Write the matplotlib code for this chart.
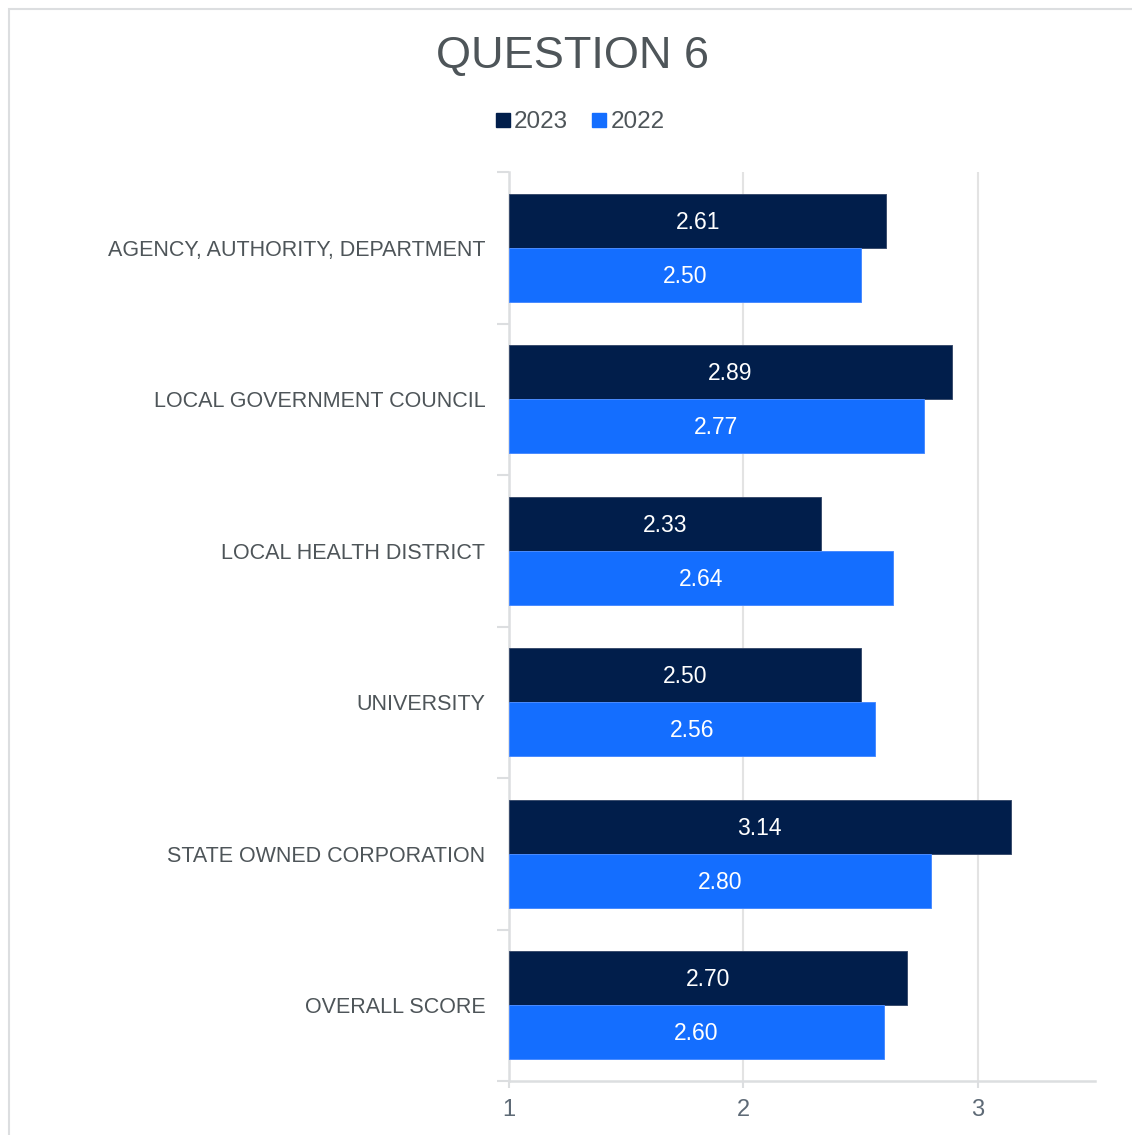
import matplotlib.pyplot as plt
import numpy as np
from matplotlib.patches import Rectangle
from matplotlib.lines import Line2D

plt.rcParams['font.family'] = ['Liberation Sans', 'DejaVu Sans']

categories = ['AGENCY, AUTHORITY, DEPARTMENT', 'LOCAL GOVERNMENT COUNCIL',
              'LOCAL HEALTH DISTRICT', 'UNIVERSITY', 'STATE OWNED CORPORATION',
              'OVERALL SCORE']
scores_2023 = [2.61, 2.89, 2.33, 2.50, 3.14, 2.70]
scores_2022 = [2.50, 2.77, 2.64, 2.56, 2.80, 2.60]
x_ticks = [1, 2, 3]

navy = '#011E4B'
blue = '#146EFF'
grey_line = '#DCDEE0'
text_col = '#4E5559'

fig = plt.figure(figsize=(11.32, 11.35), dpi=100)
W, H = 1132, 1135

# thin frame round the chart area (only left/top edges fall inside the image)
fig.patches.append(Rectangle((8.5 / W, -0.05), 1.2, 1 - 8.5 / H + 0.05,
                             transform=fig.transFigure, fill=False,
                             edgecolor=grey_line, linewidth=1.5))

ax = fig.add_axes([509 / W, 1 - 1081 / H, (1095 - 509) / W, (1081 - 172) / H])

y = np.arange(len(categories))
h = 0.357
base = 1
ax.barh(y - h / 2, np.array(scores_2023) - base, height=h, left=base,
        color=navy, edgecolor='#3B4D6E', linewidth=0.7, zorder=3)
ax.barh(y + h / 2, np.array(scores_2022) - base, height=h, left=base,
        color=blue, edgecolor='#4A8BFF', linewidth=0.7, zorder=3)

for yy, v in zip(y, scores_2023):
    ax.text((base + v) / 2, yy - h / 2 + 0.01, f'{v:.2f}', color='white',
            ha='center', va='center', fontsize=16.5, zorder=4)
for yy, v in zip(y, scores_2022):
    ax.text((base + v) / 2, yy + h / 2 + 0.01, f'{v:.2f}', color='white',
            ha='center', va='center', fontsize=16.5, zorder=4)

ax.set_xlim(1, 3.5)
ax.set_ylim(len(categories) - 0.5, -0.5)
ax.set_xticks(x_ticks)
ax.set_xticklabels([str(t) for t in x_ticks])
ax.set_yticks(y)
ax.set_yticklabels(categories)
ax.set_yticks(np.arange(-0.5, len(categories)), minor=True)

ax.grid(axis='x', color='#E3E3E3', linewidth=1.5, zorder=0)
ax.set_axisbelow(True)
for s in ['top', 'right']:
    ax.spines[s].set_visible(False)
for s in ['left', 'bottom']:
    ax.spines[s].set_color(grey_line)
    ax.spines[s].set_linewidth(1.8)

ax.tick_params(axis='y', which='major', length=0, pad=17, labelsize=15.5,
               labelcolor=text_col)
ax.tick_params(axis='y', which='minor', length=9, width=1.5, color=grey_line)
ax.tick_params(axis='x', length=5, width=1.5, color=grey_line, pad=8,
               labelsize=17, labelcolor='#5E6A76')

fig.text(0.5 + 6 / W, 1 - 57 / H, 'QUESTION 6', ha='center', va='center',
         fontsize=32.5, color=text_col)

handles = [Line2D([], [], linestyle='none', marker='s', markersize=9.5,
                  color=navy),
           Line2D([], [], linestyle='none', marker='s', markersize=9.5,
                  color=blue)]
fig.legend(handles, ['2023', '2022'], loc='center',
           bbox_to_anchor=(580 / W, 1 - 122 / H), ncol=2, frameon=False,
           fontsize=17.5, handlelength=0.6, handletextpad=0.15,
           columnspacing=1.0, labelcolor=text_col)

fig.savefig('out.png', dpi=100)
